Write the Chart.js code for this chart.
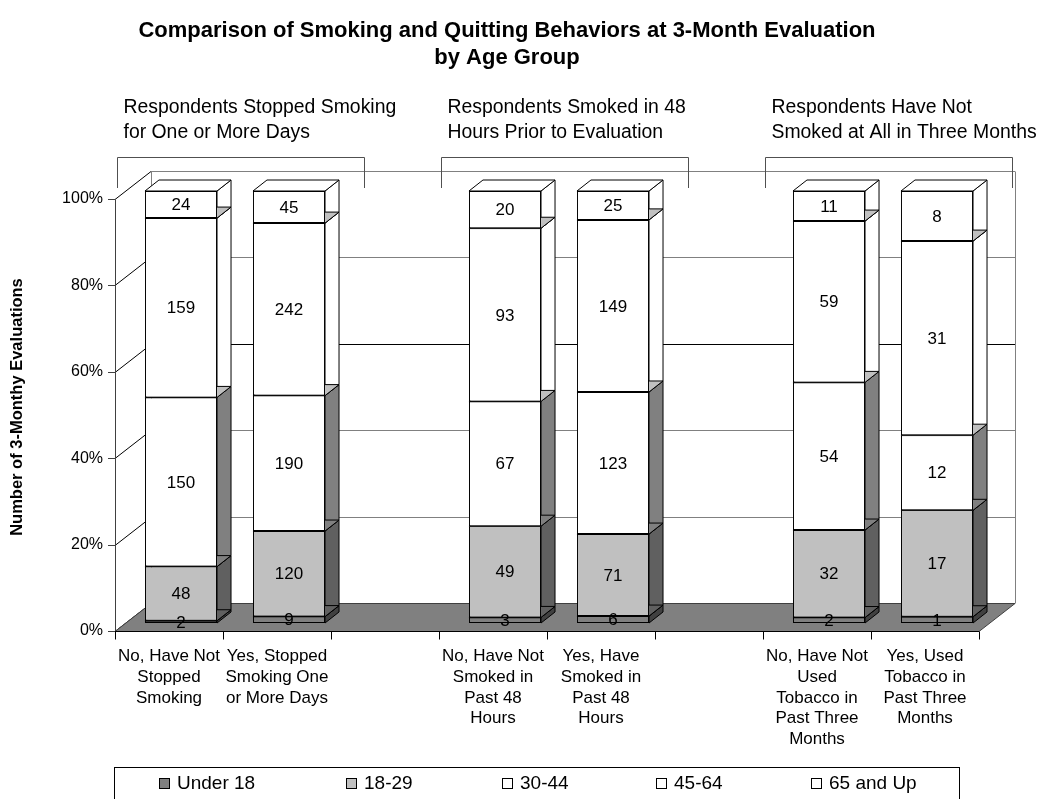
<!DOCTYPE html>
<html>
<head>
<meta charset="utf-8">
<title>Smoking and Quitting Behaviors by Age Group</title>
<script src="https://cdn.jsdelivr.net/npm/chart.js@4.4.1/dist/chart.umd.min.js"></script>
<style>
  html, body { margin: 0; padding: 0; background: #fff; }
  canvas { display: block; }
</style>
</head>
<body>
<canvas id="chart" width="1037" height="799"></canvas>
<script>
// categories (empty strings are the gaps between the three groups)
const categories = [
  ['No, Have Not', 'Stopped', 'Smoking'],
  ['Yes, Stopped', 'Smoking One', 'or More Days'],
  '',
  ['No, Have Not', 'Smoked in', 'Past 48', 'Hours'],
  ['Yes, Have', 'Smoked in', 'Past 48', 'Hours'],
  '',
  ['No, Have Not', 'Used', 'Tobacco in', 'Past Three', 'Months'],
  ['Yes, Used', 'Tobacco in', 'Past Three', 'Months']
];
const ageGroups = ['Under 18', '18-29', '30-44', '45-64', '65 and Up'];

// counts of 3-month evaluations per age group
const under18 = [2, 9, null, 3, 6, null, 2, 1];
const age18to29 = [48, 120, null, 49, 71, null, 32, 17];
const age30to44 = [150, 190, null, 67, 123, null, 54, 12];
const age45to64 = [159, 242, null, 93, 149, null, 59, 31];
const age65up = [24, 45, null, 20, 25, null, 11, 8];

const groupTitles = [
  ['Respondents Stopped Smoking', 'for One or More Days'],
  ['Respondents Smoked in 48', 'Hours Prior to Evaluation'],
  ['Respondents Have Not', 'Smoked at All in Three Months']
];
const groupStarts = [0, 3, 6];
const yTicks = [0, 20, 40, 60, 80, 100];

const titleLines = ['Comparison of Smoking and Quitting Behaviors at 3-Month Evaluation', 'by Age Group'];

// styles
const FONT = '"Liberation Sans", Arial, sans-serif';
const frontColors = ['#808080', '#c0c0c0', '#ffffff', '#ffffff', '#ffffff'];
const sideColors = ['#404040', '#606060', '#808080', '#ffffff', '#ffffff'];
const topColors = ['#606060', '#808080', '#c0c0c0', '#c0c0c0', '#ffffff'];
const legendX = [159, 346, 502, 656, 811];
const FRONT = { dx: -12, dy: 8 };   // front plane (axes) relative to bar faces
const WALL = { dx: 24, dy: -20 };   // back wall relative to bar faces
const DEPTH = { dx: 14, dy: -11 };  // bar depth

const series = [under18, age18to29, age30to44, age45to64, age65up];
const totals = categories.map((c, i) => series.reduce((s, arr) => s + (arr[i] || 0), 0));
const toPct = arr => arr.map((v, i) => v == null ? null : v / totals[i] * 100);

const line = (ctx, x1, y1, x2, y2, color) => {
  ctx.beginPath();
  ctx.moveTo(x1, y1);
  ctx.lineTo(x2, y2);
  ctx.strokeStyle = color;
  ctx.lineWidth = 1;
  ctx.stroke();
};

const poly = (ctx, pts, fill, stroke) => {
  ctx.beginPath();
  ctx.moveTo(pts[0][0], pts[0][1]);
  pts.slice(1).forEach(p => ctx.lineTo(p[0], p[1]));
  ctx.closePath();
  if (fill) { ctx.fillStyle = fill; ctx.fill(); }
  if (stroke) { ctx.strokeStyle = stroke; ctx.lineWidth = 1; ctx.stroke(); }
};

const segBox = (el) => {
  const p = el.getProps(['x', 'y', 'base', 'width'], true);
  return { l: p.x - p.width / 2, r: p.x + p.width / 2, top: Math.min(p.y, p.base), bottom: Math.max(p.y, p.base), cx: p.x };
};

// walls, floor, axes, bar side/top faces, labels, brackets, legend
const scene3d = {
  id: 'scene3d',
  afterLayout(chart) {
    chart.titleBlock.left = 0;
    chart.titleBlock.right = 1014;
  },
  beforeDatasetsDraw(chart) {
    const { ctx, chartArea: a, scales: { x, y } } = chart;
    ctx.save();
    const fx = a.left + FRONT.dx, wx = a.left + WALL.dx, wr = a.right + WALL.dx;

    yTicks.forEach(v => {
      const py = Math.round(y.getPixelForValue(v)) + 0.5;
      line(ctx, wx, py + WALL.dy, wr, py + WALL.dy, v === 60 ? '#000' : '#808080');
      line(ctx, fx, py + FRONT.dy, wx, py + WALL.dy, '#000');
      line(ctx, fx - 7, py + FRONT.dy, fx, py + FRONT.dy, '#404040');
    });
    const top = Math.round(a.top) + 0.5, bot = Math.round(a.bottom) + 0.5;
    line(ctx, Math.round(wx) + 0.5, top + WALL.dy, Math.round(wx) + 0.5, bot + WALL.dy, '#808080');
    line(ctx, Math.round(wr) + 0.5, top + WALL.dy, Math.round(wr) + 0.5, bot + WALL.dy, '#808080');

    // floor
    poly(ctx, [
      [fx, bot + FRONT.dy], [a.right + FRONT.dx, bot + FRONT.dy],
      [wr, bot + WALL.dy], [wx, bot + WALL.dy]
    ], '#808080', '#404040');

    // axes
    line(ctx, Math.round(fx) + 0.5, top + FRONT.dy, Math.round(fx) + 0.5, bot + FRONT.dy, '#404040');
    line(ctx, fx, bot + FRONT.dy, a.right + FRONT.dx, bot + FRONT.dy, '#000');
    const cw = x.getPixelForValue(1) - x.getPixelForValue(0);
    for (let i = 0; i <= categories.length; i++) {
      const px = Math.round(x.getPixelForValue(i) - cw / 2 + FRONT.dx) + 0.5;
      line(ctx, px, bot + FRONT.dy, px, bot + FRONT.dy + 8, '#000');
    }

    // side faces, then top faces (fronts are drawn by Chart.js afterwards)
    const last = chart.data.datasets.length - 1;
    chart.data.datasets.forEach((ds, di) => {
      chart.getDatasetMeta(di).data.forEach((el, i) => {
        if (ds.data[i] == null) return;
        const b = segBox(el);
        poly(ctx, [
          [b.r, b.bottom], [b.r + DEPTH.dx, b.bottom + DEPTH.dy],
          [b.r + DEPTH.dx, b.top + DEPTH.dy], [b.r, b.top]
        ], sideColors[di], '#000');
      });
    });
    chart.data.datasets.forEach((ds, di) => {
      chart.getDatasetMeta(di).data.forEach((el, i) => {
        if (ds.data[i] == null) return;
        const b = segBox(el);
        poly(ctx, [
          [b.l, b.top], [b.r, b.top],
          [b.r + DEPTH.dx, b.top + DEPTH.dy], [b.l + DEPTH.dx, b.top + DEPTH.dy]
        ], di === last ? '#ffffff' : topColors[di], '#000');
      });
    });
    ctx.restore();
  },
  afterDatasetsDraw(chart) {
    const { ctx, chartArea: a, scales: { x } } = chart;
    ctx.save();
    // count labels
    ctx.font = '17px ' + FONT;
    ctx.fillStyle = '#000';
    ctx.textAlign = 'center';
    ctx.textBaseline = 'middle';
    chart.data.datasets.forEach((ds, di) => {
      chart.getDatasetMeta(di).data.forEach((el, i) => {
        if (ds.data[i] == null) return;
        const b = segBox(el);
        ctx.fillText(String(series[di][i]), b.cx, (b.top + b.bottom) / 2 + 1);
      });
    });

    // group brackets
    const cw = x.getPixelForValue(1) - x.getPixelForValue(0);
    ctx.font = '19.4px ' + FONT;
    ctx.textAlign = 'left';
    groupStarts.forEach((ci, g) => {
      const x1 = Math.round(x.getPixelForValue(ci) - 64) + 0.5;
      const x2 = Math.round(x1 + cw * 2.28) + 0.5;
      const yb = Math.round(a.top - 34) + 0.5;
      ctx.beginPath();
      ctx.moveTo(x1, a.top - 3);
      ctx.lineTo(x1, yb);
      ctx.lineTo(x2, yb);
      ctx.lineTo(x2, a.top - 3);
      ctx.strokeStyle = '#505050';
      ctx.lineWidth = 1;
      ctx.stroke();
      groupTitles[g].forEach((t, k) => ctx.fillText(t, x1 + 6, a.top - 83 + k * 25));
    });
    ctx.restore();
  },
  afterDraw(chart) {
    const { ctx } = chart;
    ctx.save();
    ctx.strokeStyle = '#000';
    ctx.lineWidth = 1;
    ctx.strokeRect(114.5, 767.5, 845, 40);
    // legend
    ctx.font = '19px ' + FONT;
    ctx.textAlign = 'left';
    ctx.textBaseline = 'middle';
    ageGroups.forEach((name, di) => {
      const lx = legendX[di];
      ctx.fillStyle = frontColors[di];
      ctx.fillRect(lx + 0.5, 778.5, 10, 10);
      ctx.strokeStyle = '#000';
      ctx.strokeRect(lx + 0.5, 778.5, 10, 10);
      ctx.fillStyle = '#000';
      ctx.fillText(name, lx + 18, 784);
    });
    ctx.restore();
  }
};

Chart.defaults.font.family = FONT;
Chart.defaults.color = '#000';

new Chart(document.getElementById('chart'), {
  type: 'bar',
  data: {
    labels: categories,
    datasets: series.map((arr, di) => ({
      label: ageGroups[di],
      data: toPct(arr),
      backgroundColor: frontColors[di],
      borderColor: '#000',
      borderWidth: 1,
      borderSkipped: false,
      categoryPercentage: 1,
      barPercentage: 0.667
    }))
  },
  options: {
    responsive: false,
    animation: false,
    layout: { padding: { left: 0, right: 46, top: 0, bottom: 0 } },
    plugins: {
      title: {
        display: true,
        text: titleLines,
        color: '#000',
        font: { size: 22, weight: 'bold', lineHeight: 1.2 },
        padding: { top: 18, bottom: 120.2 }
      },
      legend: { display: false },
      tooltip: { enabled: false }
    },
    scales: {
      x: {
        stacked: true,
        grid: { display: false },
        border: { display: false },
        ticks: {
          autoSkip: false,
          maxRotation: 0,
          minRotation: 0,
          padding: 15,
          labelOffset: FRONT.dx,
          font: { size: 17, lineHeight: 1.22 }
        },
        afterFit: (scale) => { scale.height = 176; }
      },
      y: {
        stacked: true,
        min: 0,
        max: 100,
        grid: { display: false },
        border: { display: false },
        ticks: {
          stepSize: 20,
          padding: 16,
          labelOffset: FRONT.dy,
          font: { size: 16 },
          callback: (v) => v + '%'
        },
        title: {
          display: true,
          text: 'Number of 3-Monthy Evaluations',
          font: { size: 16.5, weight: 'bold' },
          padding: { top: 8, bottom: 0 }
        },
        afterFit: (scale) => { scale.width = 127; }
      }
    }
  },
  plugins: [scene3d]
});
</script>
</body>
</html>
